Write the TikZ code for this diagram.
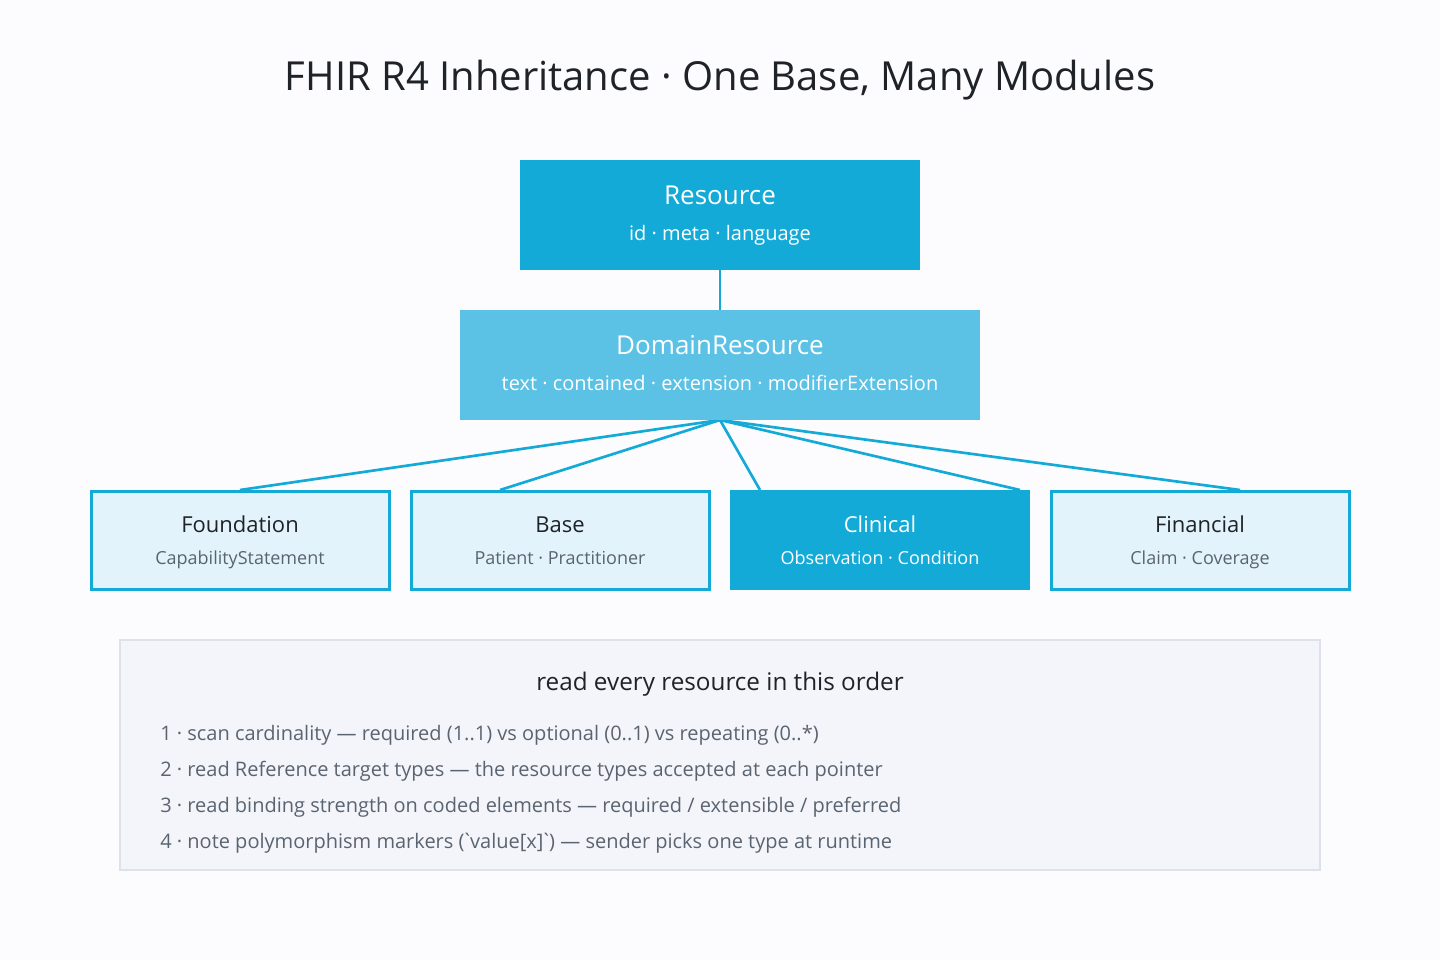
\documentclass[tikz,border=0pt]{standalone}
\usepackage{fontspec}
\setmainfont{Open Sans}
\newfontfamily\nomap[Ligatures=TeXOff]{Open Sans}
\newcommand{\gravetick}{\kern-2.2pt{\nomap`}\kern-2.2pt}
\usetikzlibrary{calc}
\definecolor{bg}{HTML}{FCFCFE}
\definecolor{deep}{HTML}{14AAD8}
\definecolor{mid}{HTML}{5BC2E5}
\definecolor{pale}{HTML}{E2F3FB}
\definecolor{ink}{HTML}{1F2328}
\definecolor{subink}{HTML}{5A6470}
\definecolor{panelfill}{HTML}{F4F5FA}
\definecolor{panelline}{HTML}{DDE1EA}
\tikzset{
  box/.style={rectangle, inner sep=0pt, outer sep=0pt},
  darkbox/.style={box, fill=deep, minimum width=400*0.75pt, minimum height=110*0.75pt},
  midbox/.style={box, fill=mid, minimum width=520*0.75pt, minimum height=110*0.75pt},
  palebox/.style={box, fill=pale, draw=deep, line width=2.25pt, minimum width=298*0.75pt, minimum height=98*0.75pt},
  clinbox/.style={box, fill=deep, minimum width=300*0.75pt, minimum height=100*0.75pt},
  link/.style={draw=deep, line width=2pt},
  txt/.style={inner sep=0pt, anchor=base},
  ttl/.style={txt, font=\fontsize{19.5}{22}\selectfont},
  sub/.style={txt, font=\fontsize{15}{17}\selectfont},
  mttl/.style={txt, font=\fontsize{16.5}{18}\selectfont},
  msub/.style={txt, font=\fontsize{13.5}{15}\selectfont},
  item/.style={inner sep=0pt, anchor=base west, text=subink, font=\fontsize{15}{17}\selectfont},
}
\begin{document}
\begin{tikzpicture}[x=0.75pt, y=-0.75pt]
\fill[bg] (0,0) rectangle (1440,960);
\useasboundingbox (0,0) rectangle (1440,960);

\node[txt, text=ink, font=\fontsize{30}{34}\selectfont] (title) at (720,90) {FHIR R4 Inheritance · One Base, Many Modules};

% connectors (behind boxes)
\coordinate (hub) at (720,420);
\coordinate (tF) at (240,490);
\coordinate (tB) at (500,490);
\coordinate (tC) at (760,490);
\coordinate (tC2) at (1020,490);
\coordinate (tFi) at (1240,490);
\draw[link] (hub) -- (tF);
\draw[link] (hub) -- (tB);
\draw[link] (hub) -- (tC);
\draw[link] (hub) -- (tC2);
\draw[link] (hub) -- (tFi);

\node[darkbox] (res) at (720,215) {};
\node[midbox] (dom) at (720,365) {};
\draw[link] (res.south) -- (dom.north);

\node[ttl, text=white] (resT) at (720,204) {Resource};
\node[sub, text=white] (resS) at (720,240.5) {id · meta · language};
\node[ttl, text=white] (domT) at (720,354) {DomainResource};
\node[sub, text=white] (domS) at (720,390.5) {text · contained · extension · modifierExtension};

\node[palebox] (fnd) at (240,540) {};
\node[palebox] (bas) at (560,540) {};
\node[clinbox] (cli) at (880,540) {};
\node[palebox] (fin) at (1200,540) {};

\node[mttl, text=ink] (fndT) at (240,532) {Foundation};
\node[msub, text=subink] (fndS) at (240,564) {CapabilityStatement};
\node[mttl, text=ink] (basT) at (560,532) {Base};
\node[msub, text=subink] (basS) at (560,564) {Patient · Practitioner};
\node[mttl, text=white] (cliT) at (880,532) {Clinical};
\node[msub, text=white] (cliS) at (880,564) {Observation · Condition};
\node[mttl, text=ink] (finT) at (1200,532) {Financial};
\node[msub, text=subink] (finS) at (1200,564) {Claim · Coverage};

% panel
\node[box, fill=panelfill, draw=panelline, line width=1.5pt, minimum width=1200*0.75pt, minimum height=230*0.75pt] (panel) at (720,755) {};
\node[txt, text=ink, font=\fontsize{18.2}{20}\selectfont] (ph) at (720,690) {read every resource in this order};
\node[item] (i1) at (160,740) {1 · scan cardinality — required (1..1) vs optional (0..1) vs repeating (0..*)};
\node[item] (i2) at (160,776.5) {2 · read Reference target types — the resource types accepted at each pointer};
\node[item] (i3) at (160,812.5) {3 · read binding strength on coded elements — required / extensible / preferred};
\node[item] (i4) at (160,848.3) {4 · note polymorphism markers (\gravetick value[x]\gravetick) — sender picks one type at runtime};
\end{tikzpicture}
\end{document}
